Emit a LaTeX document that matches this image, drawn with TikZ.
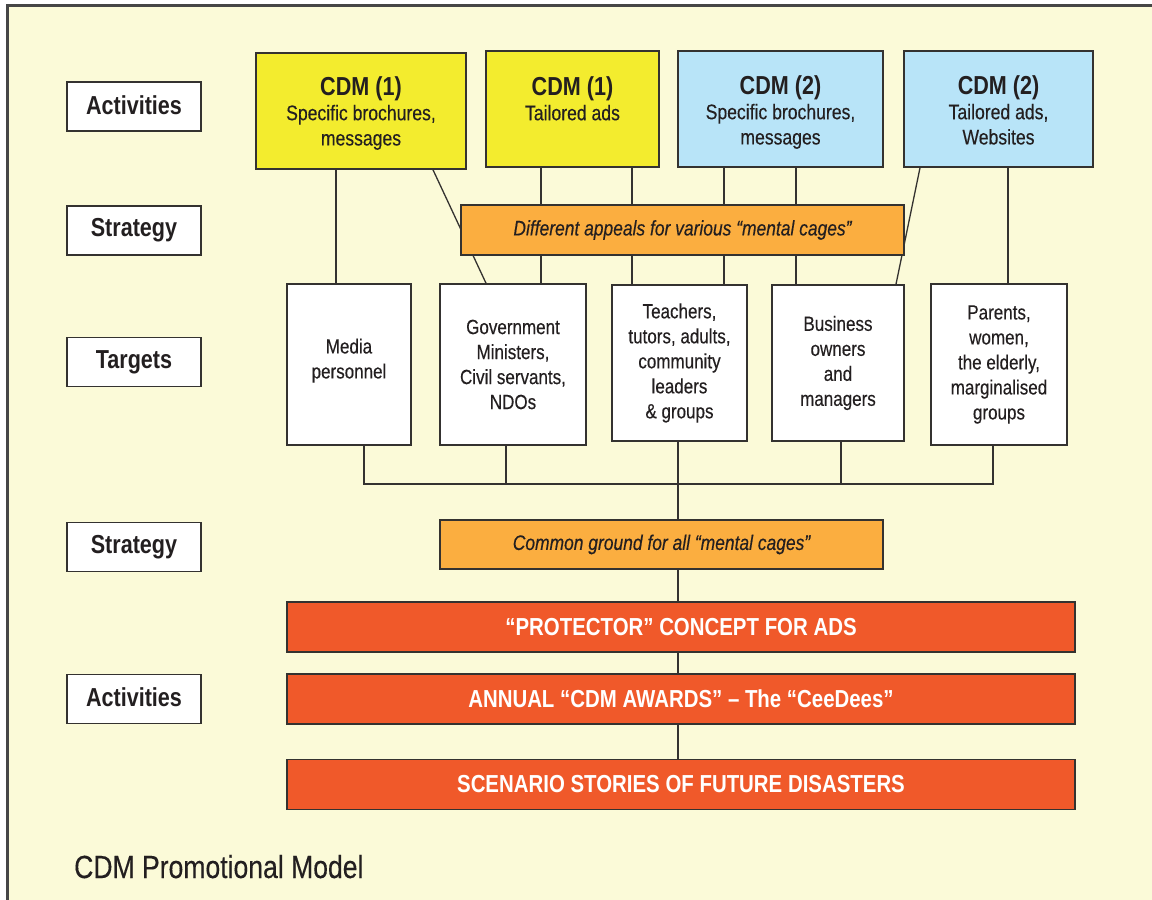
\documentclass[tikz,border=0pt]{standalone}
\usepackage{fontspec}
\setmainfont[FakeStretch=0.83, UprightFeatures={FakeBold=0.3}, ItalicFeatures={FakeBold=0.3}]{Liberation Sans}
\pgfdeclarelayer{bottom}
\pgfdeclarelayer{background}
\pgfsetlayers{bottom,background,main}
\definecolor{bgc}{RGB}{251,250,216}
\definecolor{bordc}{RGB}{52,50,48}
\definecolor{framec}{RGB}{70,70,70}
\definecolor{txtc}{RGB}{35,31,32}
\definecolor{yelc}{RGB}{243,236,46}
\definecolor{bluec}{RGB}{184,228,248}
\definecolor{orangec}{RGB}{251,174,64}
\definecolor{redc}{RGB}{240,89,42}
\tikzset{
  lab/.style={draw=bordc, line width=1.6pt, fill=white, minimum width=134pt, minimum height=49pt, inner sep=0pt, font=\fontsize{26}{30}\selectfont\bfseries, text=txtc},
  topbox/.style={draw=bordc, line width=1.6pt, minimum height=116pt, inner sep=0pt},
  toptext/.style={anchor=north, inner sep=0pt, align=center, font=\fontsize{21.2}{25.2}\selectfont, text=txtc},
  tgt/.style={draw=bordc, line width=1.6pt, fill=white, inner sep=0pt, align=center, font=\fontsize{20.5}{25}\selectfont, text=txtc},
  obar/.style={draw=bordc, line width=1.6pt, fill=orangec, minimum height=50pt, inner sep=0pt, font=\fontsize{21}{25}\selectfont\itshape, text=txtc},
  rbar/.style={draw=bordc, line width=1.6pt, fill=redc, minimum width=788pt, minimum height=50pt, inner sep=0pt, font=\fontsize{24.6}{30}\selectfont\bfseries, text=white},
  conn/.style={draw=bordc, line width=1.3pt},
}
\newcommand{\ttl}[1]{{\bfseries\fontsize{26}{25.2}\selectfont #1}}
\begin{document}
\begin{tikzpicture}[x=1pt,y=-1pt]
\useasboundingbox (0,0) rectangle (1152,900);
\begin{pgfonlayer}{bottom}
  \fill[white] (0,0) rectangle (1152,900);
  \begin{scope}
    \clip (0,0) rectangle (1152,900);
    \draw[fill=bgc, draw=framec, line width=2.5pt] (7.5,5.5) rectangle (1200,960);
  \end{scope}
\end{pgfonlayer}

% left labels
\node[lab] (lAct1) at (134,106.5) {\raisebox{3pt}{Activities}};
\node[lab] (lStr1) at (134,230.3) {Strategy};
\node[lab] (lTar)  at (134,362) {Targets};
\node[lab] (lStr2) at (134,547) {Strategy};
\node[lab] (lAct2) at (134,699) {\raisebox{3pt}{Activities}};

% top activity boxes
\node[topbox, fill=yelc, minimum width=210pt] (c1a) at (361,111) {};
\node[topbox, fill=yelc, minimum width=173pt] (c1b) at (572.5,109) {};
\node[topbox, fill=bluec, minimum width=205pt] (c2a) at (780.5,109) {};
\node[topbox, fill=bluec, minimum width=189pt] (c2b) at (998.5,109) {};
\node[toptext] (c1a-t) at (361,76) {\ttl{CDM (1)}\\Specific brochures,\\messages};
\node[toptext] (c1b-t) at (572.5,76) {\ttl{CDM (1)}\\Tailored ads};
\node[toptext] (c2a-t) at (780.5,75) {\ttl{CDM (2)}\\Specific brochures,\\messages};
\node[toptext] (c2b-t) at (998.5,75) {\ttl{CDM (2)}\\Tailored ads,\\Websites};

% strategy bar 1
\node[obar, minimum width=443pt] (bar1) at (682.5,230) {Different appeals for various “mental cages”};

% targets
\node[tgt, minimum width=124pt, minimum height=161pt] (tMedia) at (349,364.5) {Media\\personnel\rule[-12pt]{0pt}{12pt}};
\node[tgt, minimum width=146pt, minimum height=161pt] (tGov) at (513,364.5) {Government\\Ministers,\\Civil servants,\\NDOs};
\node[tgt, minimum width=135pt, minimum height=156pt] (tTeach) at (679.5,363) {Teachers,\\tutors, adults,\\community\\leaders\\\& groups};
\node[tgt, minimum width=132pt, minimum height=156pt] (tBus) at (838,363) {Business\\owners\\and\\managers};
\node[tgt, minimum width=136pt, minimum height=161pt] (tPar) at (999,364.5) {Parents,\\women,\\the elderly,\\marginalised\\groups};

% common ground
\node[obar, minimum width=443pt, minimum height=49pt] (common) at (661.5,544.5) {Common ground for all “mental cages”};

% red bars
\node[rbar] (prot) at (681,627) {“PROTECTOR” CONCEPT FOR ADS};
\node[rbar] (annual) at (681,699) {ANNUAL “CDM AWARDS” – The “CeeDees”};
\node[rbar] (scen) at (681,784.5) {SCENARIO STORIES OF FUTURE DISASTERS};

% caption
\node[anchor=base west, font=\fontsize{32}{36}\selectfont, text=txtc, inner sep=0pt] (caption) at (74,878) {CDM Promotional Model};

\coordinate (bus) at (678,484);

\begin{pgfonlayer}{background}
  \draw[conn] (336,0 |- c1a.south) -- (336,0 |- tMedia.north);
  \draw[conn] (433,0 |- c1a.south) -- (486,0 |- tGov.north);
  \draw[conn] (541,0 |- c1b.south) -- (541,0 |- tGov.north);
  \draw[conn] (632,0 |- c1b.south) -- (632,0 |- tTeach.north);
  \draw[conn] (724,0 |- c2a.south) -- (724,0 |- tTeach.north);
  \draw[conn] (796,0 |- c2a.south) -- (796,0 |- tBus.north);
  \draw[conn] (920,0 |- c2b.south) -- (896,0 |- tBus.north);
  \draw[conn] (1008,0 |- c2b.south) -- (1008,0 |- tPar.north);
  \draw[conn] (364,0 |- tMedia.south) |- (993,0 |- bus) -- (993,0 |- tPar.south);
  \draw[conn] (506,0 |- tGov.south) -- (506,0 |- bus);
  \draw[conn] (841,0 |- tBus.south) -- (841,0 |- bus);
  \draw[conn] (678,0 |- tTeach.south) -- (678,0 |- common.north);
  \draw[conn] (678,0 |- common.south) -- (678,0 |- prot.north);
  \draw[conn] (678,0 |- prot.south) -- (678,0 |- annual.north);
  \draw[conn] (678,0 |- annual.south) -- (678,0 |- scen.north);
\end{pgfonlayer}
\end{tikzpicture}
\end{document}
